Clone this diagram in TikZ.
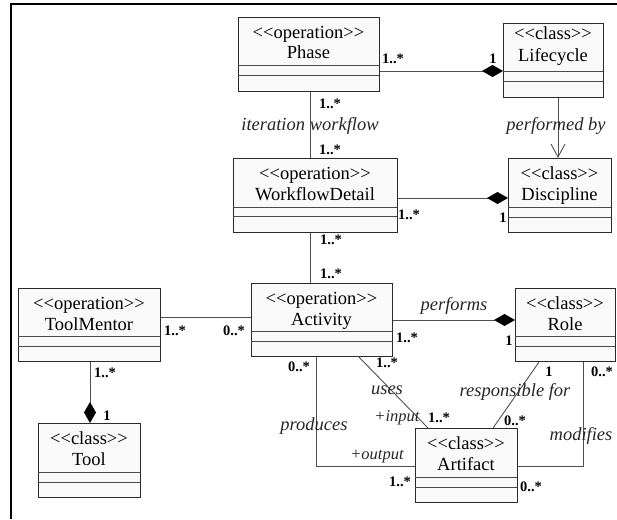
\documentclass[tikz,border=0pt]{standalone}
\usepackage{fontspec}
\setmainfont{Liberation Serif}[Ligatures=TeXOff]
\usetikzlibrary{arrows.meta,calc}
\definecolor{linec}{HTML}{505050}
\definecolor{boxfill}{HTML}{FAFAFA}
\definecolor{boxline}{HTML}{2A2A2A}
\tikzset{
  umlframe/.style={draw=boxline, fill=boxfill, line width=1.1pt, rectangle, inner sep=0pt, anchor=north west},
  divider/.style={draw=boxline!85, line width=1pt},
  boxtext/.style={font=\fontsize{18.5}{21}\selectfont, inner sep=0pt, text=black, anchor=base},
  mult/.style={font=\fontsize{14.5}{16}\selectfont\bfseries, inner sep=0pt, text=black},
  rolelbl/.style={font=\fontsize{18.5}{20}\selectfont\itshape, inner sep=0pt, text=black!85},
  endlbl/.style={font=\fontsize{16.5}{18}\selectfont\itshape, inner sep=0pt, text=black!85},
  conn/.style={draw=linec, line width=0.9pt},
  compos/.style={conn, -{Diamond[length=21pt,width=12pt,fill=black,color=black]}},
  navig/.style={conn, -{Straight Barb[length=13pt,width=14pt]}},
}
\newcommand\sboff{21}
\newcommand\tboff{42}
\newcommand\umlcls[9]{%
  \node[umlframe, minimum width={(#4-#2)*1pt}, minimum height={(#5-#3)*1pt}] (#1) at (#2,#3) {};
  \draw[divider] (#2,#6) -- (#4,#6);
  \draw[divider] (#2,#7) -- (#4,#7);
  \node[boxtext] (#1-s) at ({(#2+#4)/2},{#3+\sboff}) {<<#8>>};
  \node[boxtext] (#1-t) at ({(#2+#4)/2},{#3+\tboff}) {#9};
}
\begin{document}
\begin{tikzpicture}[x=1pt,y=-1pt]
\useasboundingbox (0,0) rectangle (617,519);
\draw[line width=1.3pt] (11,519) -- (11,4) -- (617,4);

\umlcls{Phase}{238}{17}{379}{91}{65}{75}{operation}{Phase}
\umlcls{WorkflowDetail}{233}{158}{397}{232}{207}{216}{operation}{WorkflowDetail}
\umlcls{Discipline}{508}{158}{611}{232}{207}{217}{class}{Discipline}
\umlcls{ToolMentor}{18}{288}{160}{361}{336}{346}{operation}{ToolMentor}
\umlcls{Activity}{251}{283}{392}{356}{331}{341}{operation}{Activity}
\umlcls{Tool}{38}{423}{140}{497}{472}{482}{class}{Tool}
\umlcls{Role}{515}{288}{615}{361}{336}{346}{class}{Role}
\umlcls{Artifact}{415}{428}{517}{502}{477}{487}{class}{Artifact}
\renewcommand\sboff{16}
\renewcommand\tboff{38}
\umlcls{Lifecycle}{503}{23}{603}{97}{71}{81}{class}{Lifecycle}

\draw[compos] (Phase.east |- 0,71) -- (Lifecycle.west |- 0,71);
\draw[conn] (Phase.south -| 310,0) -- (WorkflowDetail.north -| 310,0);
\draw[navig] (Lifecycle.south -| 558,0) -- (Discipline.north -| 558,0);
\draw[compos] (WorkflowDetail.east |- 0,198) -- (Discipline.west |- 0,198);
\draw[conn] (WorkflowDetail.south -| 310,0) -- (Activity.north -| 310,0);
\draw[conn] (ToolMentor.east |- 0,317) -- (Activity.west |- 0,317);
\draw[compos] (ToolMentor.south -| 90,0) -- (Tool.north -| 90,0);
\draw[compos] (Activity.east |- 0,320) -- (Role.west |- 0,320);
\draw[conn] (Activity.south -| 316,0) |- (Artifact.west |- 0,466);
\draw[conn] (Activity.south -| 359,0) -- (Artifact.north -| 428,0);
\draw[conn] (Role.south -| 539,0) -- (Artifact.north -| 493,0);
\draw[conn] (Role.south -| 583,0) |- (Artifact.east |- 0,466);

\node[mult] (m1) at (393,59) {1..*};
\node[mult] (m2) at (493,59) {1};
\node[mult] (m3) at (330,104) {1..*};
\node[rolelbl] (l1) at (310,126) {iteration workflow};
\node[rolelbl] (l2) at (556,126) {performed by};
\node[mult] (m4) at (330,150) {1..*};
\node[mult] (m5) at (409,215) {1..*};
\node[mult] (m6) at (503,218) {1};
\node[mult] (m7) at (331,240) {1..*};
\node[mult] (m8) at (331,274) {1..*};
\node[mult] (m9) at (175,331) {1..*};
\node[mult] (m10) at (234,331) {0..*};
\node[mult] (m11) at (105,373) {1..*};
\node[mult] (m12) at (107,416) {1};
\node[mult] (m13) at (299,367) {0..*};
\node[rolelbl] (l3) at (314,426) {produces};
\node[rolelbl] (l4) at (454,306) {performs};
\node[mult] (m14) at (407,338) {1..*};
\node[mult] (m15) at (509,341) {1};
\node[mult] (m16) at (387,363) {1..*};
\node[rolelbl] (l5) at (387,390) {uses};
\node[endlbl] (e1) at (397,418) {+input};
\node[mult] (m17) at (439,418) {1..*};
\node[mult] (m18) at (549,372) {1};
\node[mult] (m19) at (602,372) {0..*};
\node[rolelbl] (l6) at (515,392) {responsible for};
\node[mult] (m20) at (515,421) {0..*};
\node[rolelbl] (l7) at (581,436) {modifies};
\node[endlbl] (e2) at (377,457) {+output};
\node[mult] (m21) at (400,482) {1..*};
\node[mult] (m22) at (531,487) {0..*};
\end{tikzpicture}
\end{document}
